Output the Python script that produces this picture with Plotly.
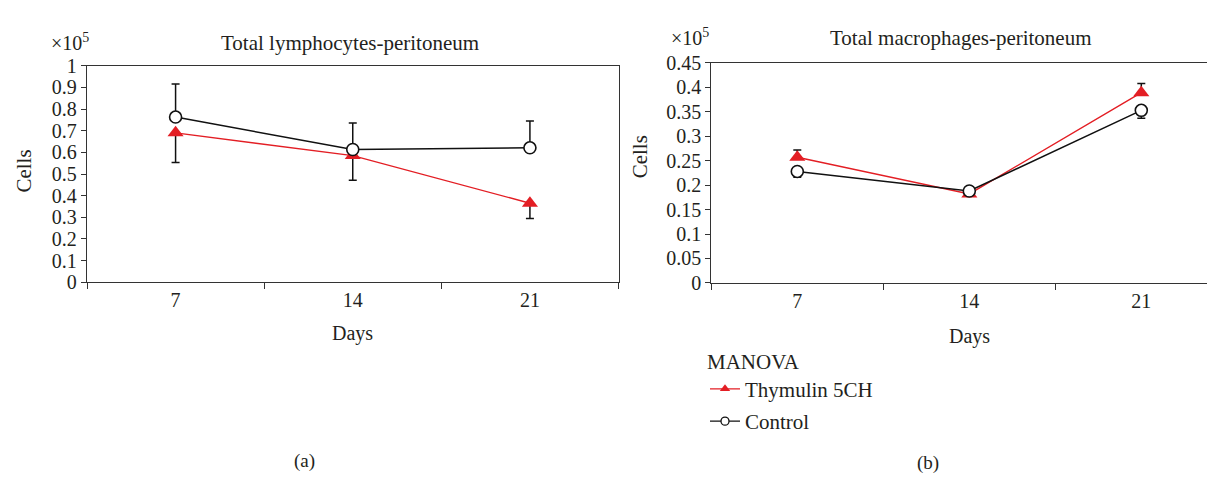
import plotly.graph_objects as go

# ---------------- data ----------------
days = ["7", "14", "21"]

lymph_thymulin = [0.69, 0.585, 0.365]
lymph_thymulin_err_down = [0.137, 0.114, 0.071]
lymph_control = [0.763, 0.613, 0.621]
lymph_control_err_up = [0.153, 0.122, 0.124]

macro_thymulin = [0.257, 0.182, 0.389]
macro_thymulin_err_up = [0.015, 0.004, 0.019]
macro_control = [0.228, 0.188, 0.353]
macro_control_err_down = [0.012, 0.004, 0.016]

lymph_ticks = [0, 0.1, 0.2, 0.3, 0.4, 0.5, 0.6, 0.7, 0.8, 0.9, 1]
lymph_ticktext = ["0", "0.1", "0.2", "0.3", "0.4", "0.5", "0.6", "0.7", "0.8", "0.9", "1"]
macro_ticks = [0, 0.05, 0.1, 0.15, 0.2, 0.25, 0.3, 0.35, 0.4, 0.45]
macro_ticktext = ["0", "0.05", "0.1", "0.15", "0.2", "0.25", "0.3", "0.35", "0.4", "0.45"]

titles = ["Total lymphocytes-peritoneum", "Total macrophages-peritoneum"]
series_names = ["Thymulin 5CH", "Control"]

# ---------------- style ----------------
W, H = 1215, 477
FONT = "Liberation Serif"
TXT = "#231f20"
RED = "#e31e24"
BLK = "#111111"
AX = "#333333"


def px(x):
    return x / W


def py(y):
    return 1 - y / H


fig = go.Figure()


def add_pair(xa, ya, thy, thy_plus, thy_minus, ctl, ctl_plus, ctl_minus):
    fig.add_trace(go.Scatter(
        x=days, y=thy, name=series_names[0], mode="lines+markers",
        xaxis=xa, yaxis=ya, showlegend=False,
        line=dict(color=RED, width=1.4),
        marker=dict(symbol="triangle-up", size=14, color=RED),
        error_y=dict(type="data", symmetric=False, array=thy_plus, arrayminus=thy_minus,
                     color=BLK, thickness=1.5, width=4),
    ))
    fig.add_trace(go.Scatter(
        x=days, y=ctl, name=series_names[1], mode="lines+markers",
        xaxis=xa, yaxis=ya, showlegend=False,
        line=dict(color=BLK, width=1.5),
        marker=dict(symbol="circle", size=12, color="white",
                    line=dict(color=BLK, width=1.6)),
        error_y=dict(type="data", symmetric=False, array=ctl_plus, arrayminus=ctl_minus,
                     color=BLK, thickness=1.5, width=4),
    ))


zeros = [0, 0, 0]
add_pair("x", "y", lymph_thymulin, zeros, lymph_thymulin_err_down,
         lymph_control, lymph_control_err_up, zeros)
add_pair("x2", "y2", macro_thymulin, macro_thymulin_err_up, zeros,
         macro_control, zeros, macro_control_err_down)

# legend-only entries (smaller symbols, as in the reference key)
fig.add_trace(go.Scatter(
    x=[None], y=[None], name=series_names[0], mode="lines+markers",
    xaxis="x2", yaxis="y2", legendgroup="a",
    line=dict(color=RED, width=1.4),
    marker=dict(symbol="triangle-up", size=9, color=RED),
))
fig.add_trace(go.Scatter(
    x=[None], y=[None], name=series_names[1], mode="lines+markers",
    xaxis="x2", yaxis="y2", legendgroup="b",
    line=dict(color=BLK, width=1.4),
    marker=dict(symbol="circle", size=8, color="white", line=dict(color=BLK, width=1.3)),
))

tickfont = dict(family=FONT, size=20, color=TXT)

xcommon = dict(type="category", categoryorder="array", categoryarray=days,
               tickson="boundaries", ticks="outside", ticklen=6, tickwidth=1.2,
               tickcolor=AX, showline=True, linecolor=AX, linewidth=1.3,
               showgrid=False, zeroline=False, tickfont=tickfont, fixedrange=True)
ycommon = dict(ticks="outside", ticklen=5, tickwidth=1.2, tickcolor=AX,
               showline=True, linecolor=AX, linewidth=1.3, showgrid=False,
               zeroline=False, tickfont=tickfont, fixedrange=True)

fig.update_layout(
    xaxis=dict(xcommon, domain=[px(79), px(610.5)], range=[-0.5, 2.5],
               mirror=True, anchor="y"),
    yaxis=dict(ycommon, domain=[py(276), py(49)], range=[0, 1],
               tickvals=lymph_ticks, ticktext=lymph_ticktext, mirror=True, anchor="x"),
    xaxis2=dict(xcommon, domain=[px(703.3), 1.0], range=[-0.5, -0.5 + (W - 703.3) / 172.0],
                mirror=True, anchor="y2"),
    yaxis2=dict(ycommon, domain=[py(276.7), py(46)], range=[0, 0.45],
                tickvals=macro_ticks, ticktext=macro_ticktext, mirror=False, anchor="x2"),
)

annos = []


def text(x, y, s, size=20, angle=0, xanchor="center"):
    annos.append(dict(x=px(x), y=py(y), xref="paper", yref="paper", text=s,
                      showarrow=False, xanchor=xanchor, yanchor="middle",
                      textangle=angle, font=dict(family=FONT, size=size, color=TXT)))


text(342, 25, titles[0], size=21)
text(953, 20, titles[1], size=21)
text(62, 24, "×10<sup>5</sup>", size=20)
text(682, 19, "×10<sup>5</sup>", size=20)
text(16, 160, "Cells", size=21, angle=-90)
text(632, 145, "Cells", size=21, angle=-90)
text(344, 330, "Days", size=20)
text(961, 333, "Days", size=20)
text(296, 463, "(a)", size=19)
text(920, 465, "(b)", size=19)

fig.update_layout(
    width=W, height=H,
    margin=dict(l=0, r=0, t=0, b=0),
    paper_bgcolor="white", plot_bgcolor="white",
    annotations=annos,
    showlegend=True,
    legend=dict(x=px(697), y=py(338), xanchor="left", yanchor="top",
                title=dict(text="MANOVA", font=dict(family=FONT, size=21, color=TXT)),
                font=dict(family=FONT, size=21, color=TXT),
                traceorder="grouped", tracegroupgap=2, bgcolor="rgba(0,0,0,0)"),
)

fig.write_html("out.html")
